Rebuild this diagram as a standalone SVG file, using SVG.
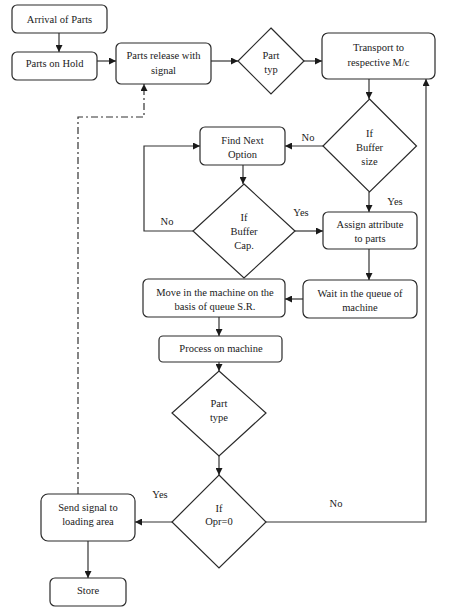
<svg xmlns="http://www.w3.org/2000/svg" width="474" height="610" viewBox="0 0 474 610">
<style>
.b{fill:#fff;stroke:#2a2a2a;stroke-width:1.2}
.t{font-family:"Liberation Serif","Times New Roman",serif;font-size:10.5px;fill:#1a1a1a;text-anchor:middle}
.c{fill:none;stroke:#333;stroke-width:1.2}
.a{marker-end:url(#ah)}
.d{fill:none;stroke:#333;stroke-width:1.2;stroke-dasharray:7,3,2,3}
</style>
<defs>
<marker id="ah" viewBox="0 0 10 10" refX="10" refY="5" markerWidth="7" markerHeight="7" markerUnits="userSpaceOnUse" orient="auto">
<path d="M0,0 L10,5 L0,10 z" fill="#1a1a1a"/>
</marker>
</defs>
<rect width="474" height="610" fill="#fff"/>
<g id="connectors">
<path class="c a" d="M59,33 V52"/>
<path class="c a" d="M97,61 H116"/>
<path class="c a" d="M211,61 H238"/>
<path class="c a" d="M304,61 H322"/>
<path class="c a" d="M369,79 V99"/>
<path class="c a" d="M323,146 H285"/>
<path class="c a" d="M369,192 V212"/>
<path class="c a" d="M243,165 V184"/>
<path class="c a" d="M193,231 H144 V146 H200"/>
<path class="c a" d="M295,231 H323"/>
<path class="c a" d="M369,249 V280"/>
<path class="c a" d="M303,299 H285"/>
<path class="c a" d="M219,317 V336"/>
<path class="c a" d="M219,362 V371"/>
<path class="c a" d="M219,456 V475"/>
<path class="c a" d="M172,522 H135"/>
<path class="c a" d="M88,541 V578"/>
<path class="c a" d="M266,522 H426 V79"/>
<path class="d a" d="M78,494 V117 H144 V84"/>
<text class="t" x="308" y="141">No</text>
<text class="t" x="395" y="205">Yes</text>
<text class="t" x="167" y="225">No</text>
<text class="t" x="301" y="216">Yes</text>
<text class="t" x="160" y="498">Yes</text>
<text class="t" x="336" y="507">No</text>
</g>
<g id="arrival"><rect class="b" x="12" y="5" width="95" height="28" rx="5"/><text class="t" x="59.5" y="22.5">Arrival of Parts</text></g>
<g id="hold"><rect class="b" x="12" y="52" width="85" height="28" rx="5"/><text class="t" x="54.5" y="67">Parts on Hold</text></g>
<g id="release"><rect class="b" x="116" y="43" width="95" height="41" rx="5"/><text class="t" x="163.5" y="59">Parts release with</text><text class="t" x="163.5" y="74">signal</text></g>
<g id="parttyp"><polygon class="b" points="271,28 304,61 271,94 238,61"/><text class="t" x="271" y="59">Part</text><text class="t" x="271" y="73">typ</text></g>
<g id="transport"><rect class="b" x="322" y="33" width="113" height="46" rx="6"/><text class="t" x="378.5" y="50.5">Transport to</text><text class="t" x="378.5" y="65.5">respective M/c</text></g>
<g id="buffersize"><polygon class="b" points="369.5,99 416.5,146 369.5,192 323,146"/><text class="t" x="369.5" y="136.5">If</text><text class="t" x="369.5" y="150.5">Buffer</text><text class="t" x="369.5" y="164.5">size</text></g>
<g id="findnext"><rect class="b" x="200" y="127" width="85" height="38" rx="5"/><text class="t" x="242.5" y="143.5">Find Next</text><text class="t" x="242.5" y="157.5">Option</text></g>
<g id="buffercap"><polygon class="b" points="244,184 295,231 244,278 193,231"/><text class="t" x="244" y="220.5">If</text><text class="t" x="244" y="235">Buffer</text><text class="t" x="244" y="249">Cap.</text></g>
<g id="assign"><rect class="b" x="323" y="212" width="94" height="37" rx="5"/><text class="t" x="370" y="227.5">Assign attribute</text><text class="t" x="370" y="241.5">to parts</text></g>
<g id="wait"><rect class="b" x="303" y="280" width="114" height="38" rx="6"/><text class="t" x="360" y="296.5">Wait in the queue of</text><text class="t" x="360" y="310.5">machine</text></g>
<g id="move"><rect class="b" x="143" y="279" width="142" height="38" rx="5"/><text class="t" x="215" y="295.5">Move in the machine on the</text><text class="t" x="215" y="309.5">basis of queue S.R.</text></g>
<g id="process"><rect class="b" x="159" y="336" width="123" height="26" rx="4"/><text class="t" x="221" y="352">Process on machine</text></g>
<g id="parttype"><polygon class="b" points="219,371 266,413 219,456 172,413"/><text class="t" x="219" y="407">Part</text><text class="t" x="219" y="421">type</text></g>
<g id="opr"><polygon class="b" points="219,475 266,522 219,568 172,522"/><text class="t" x="219" y="511.5">If</text><text class="t" x="219" y="525">Opr=0</text></g>
<g id="sendsignal"><rect class="b" x="41" y="494" width="94" height="47" rx="7"/><text class="t" x="88" y="510.5">Send signal to</text><text class="t" x="88" y="525">loading area</text></g>
<g id="store"><rect class="b" x="50" y="578" width="76" height="28" rx="5"/><text class="t" x="88" y="594">Store</text></g>
</svg>
